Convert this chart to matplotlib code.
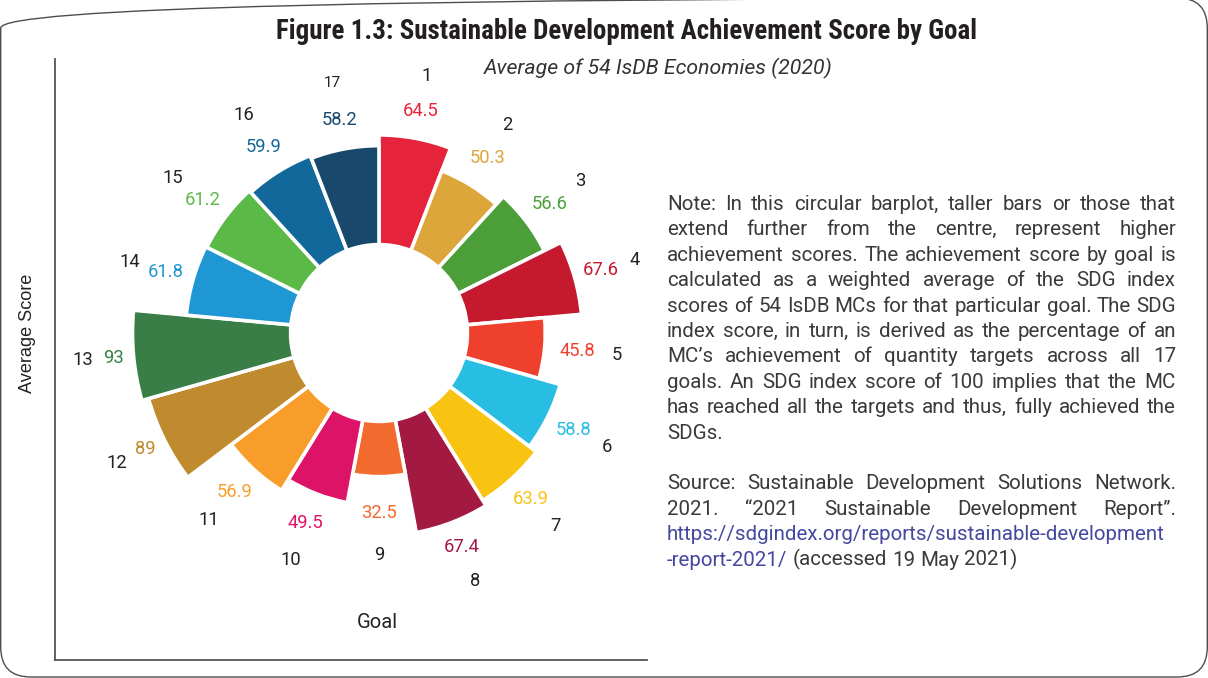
import matplotlib
matplotlib.use("Agg")
import matplotlib.pyplot as plt
import numpy as np
from matplotlib import font_manager
from matplotlib.patches import FancyBboxPatch

# ---- data -------------------------------------------------------------
goals = ["1", "2", "3", "4", "5", "6", "7", "8", "9", "10",
         "11", "12", "13", "14", "15", "16", "17"]
scores = [64.5, 50.3, 56.6, 67.6, 45.8, 58.8, 63.9, 67.4, 32.5, 49.5,
          56.9, 89, 93, 61.8, 61.2, 59.9, 58.2]
sdg_colors = ["#E5243B", "#DDA63A", "#4C9F38", "#C5192D", "#EF402D",
              "#28BDE2", "#F9C312", "#A21942", "#F26A2D", "#DD1367",
              "#F99D2A", "#BF8B2E", "#387E46", "#1F97D4", "#5BBA47",
              "#12689B", "#18486B"]

title = "Figure 1.3: Sustainable Development Achievement Score by Goal"
subtitle = "Average of 54 IsDB Economies (2020)"
x_title = "Goal"
y_title = "Average Score"

LINK = "#4547A0"
TXT = "#3a3a3a"
note_lines = [
    "Note: In this circular barplot, taller bars or those that",
    "extend further from the centre, represent higher",
    "achievement scores. The achievement score by goal is",
    "calculated as a weighted average of the SDG index",
    "scores of 54 IsDB MCs for that particular goal. The SDG",
    "index score, in turn, is derived as the percentage of an",
    "MC\u2019s achievement of quantity targets across all 17",
    "goals. An SDG index score of 100 implies that the MC",
    "has reached all the targets and thus, fully achieved the",
    "SDGs.",
]
source_lines = [
    [("Source: Sustainable Development Solutions Network.", TXT)],
    [("2021. \u201c2021 Sustainable Development Report\u201d.", TXT)],
    [("https://sdgindex.org/reports/sustainable-development", LINK)],
    [("-report-2021/", LINK), ("(accessed 19 May 2021)", TXT)],
]

# ---- figure -----------------------------------------------------------
W, H = 1208, 678
fig = plt.figure(figsize=(W / 100, H / 100), dpi=100)
fig.patch.set_facecolor("white")
renderer = fig.canvas.get_renderer()


def px_rect(x0, y_top, x1, y_bottom):
    return [x0 / W, 1 - y_bottom / H, (x1 - x0) / W, (y_bottom - y_top) / H]


def fy(y):
    return 1 - y / H


def fit_size(artist, target_px, axis="width"):
    bb = artist.get_window_extent(renderer)
    cur = bb.width if axis == "width" else bb.height
    artist.set_fontsize(artist.get_fontsize() * target_px / cur)


# rounded outer frame (top edge sits on the canvas border)
frame = FancyBboxPatch((0.7, 1.0), W - 1.4, H + 1.0,
                       boxstyle="round,pad=0,rounding_size=30",
                       transform=None, facecolor="none",
                       edgecolor="#4d4d4d", linewidth=1.0)
fig.add_artist(frame)

# L-shaped axis frame
fax = fig.add_axes(px_rect(55, 59, 647, 660), zorder=0)
fax.set_facecolor("none")
fax.set_xticks([])
fax.set_yticks([])
for side in ("top", "right"):
    fax.spines[side].set_visible(False)
for side in ("left", "bottom"):
    fax.spines[side].set_color("#555555")
    fax.spines[side].set_linewidth(1.3)

yt = fig.text(28 / W, fy(333), y_title, rotation=90, ha="center",
              va="center", family="Liberation Sans", fontsize=12,
              color="#222222")
fit_size(yt, 120, axis="height")
fig.text(377 / W, fy(622), x_title, ha="center", va="center",
         family="Roboto", fontsize=14.5, color="#222222")

# ---- circular bar plot ------------------------------------------------
cx, cy, ppu = 379, 333, 1.70
r_lo, r_hi = -52, 140
half = (r_hi - r_lo) * ppu
ax = fig.add_axes(px_rect(cx - half, cy - half, cx + half, cy + half),
                  projection="polar", zorder=1)
ax.set_theta_zero_location("N")
ax.set_theta_direction(-1)
ax.set_ylim(r_lo, r_hi)
ax.set_axis_off()

n = len(scores)
width = 2 * np.pi / n
theta = (np.arange(n) + 0.5) * width
ax.bar(theta, scores, width=width, bottom=0, color=sdg_colors,
       edgecolor="white", linewidth=2.6)

# labels sit further out for taller bars, but compress toward the rim
for th, v, g, c in zip(theta, scores, goals, sdg_colors):
    ax.text(th, 0.85 * v + 26, f"{v:g}", ha="center", va="center",
            family="Roboto", fontsize=13.2, color=c)
    ax.text(th, 0.73 * v + 55, g, ha="center", va="center",
            family="Roboto", fontsize=11 if g == "17" else 13.2,
            color="#222222")

# ---- title ------------------------------------------------------------
def pick_condensed():
    names = {f.name for f in font_manager.fontManager.ttflist}
    for fam in ("Roboto Condensed", "Open Sans Condensed",
                "Liberation Sans Narrow"):
        if fam in names:
            return dict(family=fam, fontweight="bold")
    for f in font_manager.fontManager.ttflist:
        if f.name == "DejaVu Sans" and f.stretch == "condensed":
            return dict(family="DejaVu Sans", fontstretch="condensed",
                        fontweight="bold")
    return dict(family="Roboto", fontweight="bold")


tkw = pick_condensed()
t = fig.text(626 / W, fy(39), title, ha="center", va="baseline",
             fontsize=20, color="#231f20", **tkw)
fit_size(t, 700)

st = fig.text(658 / W, fy(68), subtitle, ha="center", va="center",
              family="Roboto", style="italic", fontsize=13.5,
              color="#333333")
fit_size(st, 350)

# ---- justified note ---------------------------------------------------
note_font = dict(family="Roboto", fontsize=13.5)
x_left, x_right = 667, 1176
y0, pitch = 210, 25.4


def width_of(s):
    tt = fig.text(0, 0, s, **note_font)
    w = tt.get_window_extent(renderer).width
    tt.remove()
    return w


# size the body text so the densest justified line only just fits
widest = max(width_of(s) for s in note_lines[:-1])
note_font["fontsize"] *= (x_right - x_left - 4) / widest
space_w = width_of("a a") - width_of("aa")


def place_line(segments, y_base, justify):
    words = []
    for txt, col in segments:
        for w in txt.split(" "):
            if w:
                words.append((w, col))
    arts = [fig.text(0, fy(y_base), w, color=c, ha="left", va="baseline",
                     **note_font) for w, c in words]
    widths = [a.get_window_extent(renderer).width for a in arts]
    if justify and len(arts) > 1:
        gap = (x_right - x_left - sum(widths)) / (len(arts) - 1)
    else:
        gap = space_w
    x = x_left
    for a, wd in zip(arts, widths):
        a.set_x(x / W)
        x += wd + gap


for i, line in enumerate(note_lines):
    place_line([(line, TXT)], y0 + i * pitch, i < len(note_lines) - 1)

start = len(note_lines) + 1
for j, segs in enumerate(source_lines):
    place_line(segs, y0 + (start + j) * pitch, j < len(source_lines) - 1)

fig.savefig("out.png", dpi=100)
